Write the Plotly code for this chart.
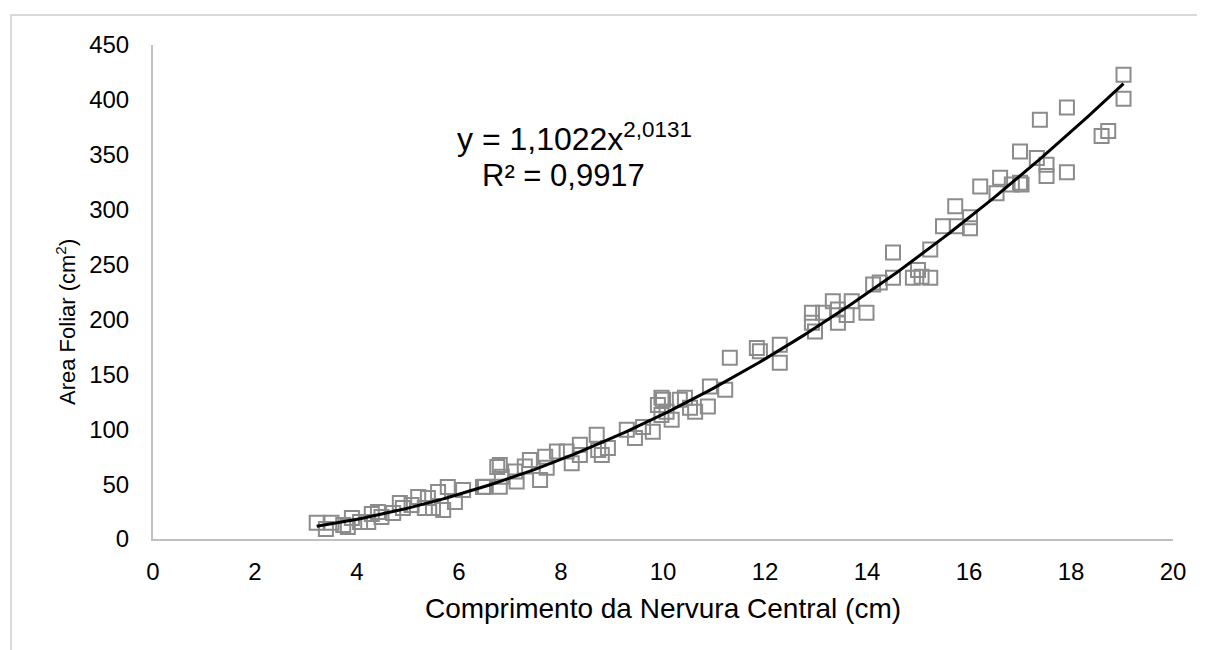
import numpy as np
import plotly.graph_objects as go

# Leaf data: midrib length (cm) vs leaf area (cm2)
comprimento = [3.21, 3.39, 3.50, 3.73, 3.82, 3.90, 4.06, 4.22, 4.29, 4.41, 4.48, 4.71, 4.84, 4.90,
               5.07, 5.20, 5.33, 5.39, 5.49, 5.59, 5.69, 5.78, 5.92, 6.08, 6.47, 6.51, 6.75, 6.80,
               6.84, 6.80, 7.10, 7.13, 7.29, 7.39, 7.59, 7.69, 7.72, 7.92, 8.11, 8.21, 8.37, 8.37,
               8.70, 8.73, 8.80, 8.92, 9.29, 9.45, 9.61, 9.80, 9.90, 9.97, 9.97, 10.00, 10.07, 10.17,
               10.33, 10.43, 10.53, 10.63, 10.88, 10.92, 11.22, 11.31, 11.84, 11.90, 12.29, 12.29,
               12.92, 12.92, 12.98, 13.14, 13.33, 13.43, 13.43, 13.60, 13.70, 13.99, 14.12, 14.25,
               14.51, 14.51, 14.90, 15.00, 15.07, 15.24, 15.24, 15.49, 15.73, 15.76, 16.02, 16.02,
               16.22, 16.54, 16.61, 16.84, 17.00, 17.03, 17.00, 17.33, 17.39, 17.52, 17.52, 17.92,
               17.92, 18.60, 18.73, 19.03, 19.03]
area_foliar = [14.9, 9.1, 14.9, 12.8, 10.9, 19.2, 15.5, 15.5, 22.8, 24.6, 20.0, 23.7, 32.8, 28.3,
               31.0, 38.3, 28.3, 37.4, 28.3, 42.9, 26.5, 47.4, 33.8, 44.7, 47.4, 47.7, 65.7, 67.5,
               56.8, 47.7, 61.4, 52.3, 66.0, 72.0, 53.8, 75.0, 64.8, 79.7, 79.7, 69.0, 85.8, 76.6,
               94.9, 81.0, 76.6, 83.0, 99.5, 92.0, 102.0, 97.6, 122.0, 128.6, 113.0, 126.8, 116.0, 108.6,
               126.8, 128.6, 119.5, 116.0, 120.7, 139.0, 136.0, 165.0, 174.0, 171.0, 177.0, 160.6,
               206.0, 197.0, 189.0, 206.0, 216.5, 209.0, 197.0, 204.0, 216.5, 206.0, 231.8, 233.6,
               261.0, 238.0, 238.0, 245.0, 239.0, 263.7, 238.0, 285.0, 303.0, 285.0, 293.0, 283.0,
               321.0, 315.0, 329.0, 323.0, 353.0, 323.0, 324.5, 347.0, 382.0, 341.0, 330.6, 393.0,
               334.0, 367.0, 371.6, 423.0, 401.0]

# Power trendline coefficients as printed on the chart
coef_a = 1.1022
coef_b = 2.0131

x_ticks = [0, 2, 4, 6, 8, 10, 12, 14, 16, 18, 20]
y_ticks = [0, 50, 100, 150, 200, 250, 300, 350, 400, 450]

xt = np.linspace(min(comprimento), max(comprimento), 200)
yt = coef_a * xt ** coef_b

fig = go.Figure()
fig.add_trace(go.Scatter(
    x=comprimento, y=area_foliar, mode="markers",
    marker=dict(symbol="square-open", size=14, color="#8c8c8c", line=dict(width=2, color="#8c8c8c")),
    showlegend=False, hoverinfo="x+y"))
fig.add_trace(go.Scatter(
    x=xt, y=yt, mode="lines", line=dict(color="black", width=3), showlegend=False))

font_family = "Liberation Sans, Arial, sans-serif"

fig.update_layout(
    width=1205, height=650,
    margin=dict(l=145, r=40, t=37, b=119, autoexpand=False),
    paper_bgcolor="white", plot_bgcolor="white",
    font=dict(family=font_family, size=24, color="#000000"),
    xaxis=dict(range=[0, 20], tickvals=x_ticks, ticktext=[str(v) for v in x_ticks],
               showgrid=False, zeroline=False, showline=True, linecolor="#c0c0c0", linewidth=2,
               ticks="", ticklen=0, ticklabelstandoff=10,
               tickfont=dict(size=24, family=font_family, color="#000"),
               title=dict(text="Comprimento da Nervura Central (cm)", standoff=15,
                          font=dict(size=28, family=font_family, color="#000"))),
    yaxis=dict(range=[0, 450], tickvals=y_ticks, ticktext=[str(v) for v in y_ticks],
               showgrid=False, zeroline=False, showline=True, linecolor="#c0c0c0", linewidth=2,
               ticks="", ticklen=0, ticklabelstandoff=17,
               tickfont=dict(size=24, family=font_family, color="#000")),
    shapes=[dict(type="rect", xref="paper", yref="paper",
                 x0=(11 - 153) / 1020, x1=(1225 - 153) / 1020,
                 y0=-0.4, y1=(539 - 15) / 494,
                 line=dict(color="#d9d9d9", width=2), fillcolor="rgba(0,0,0,0)", layer="below")],
    annotations=[
        dict(x=(66 - 153) / 1020, y=(539 - 322) / 494, xref="paper", yref="paper",
             showarrow=False, textangle=-90, xanchor="center", yanchor="middle",
             text="Area Foliar (cm<sup>2</sup>)", font=dict(size=22, family=font_family, color="#000")),
        dict(x=8.27, y=366, xref="x", yref="y", showarrow=False, xanchor="center",
             text="y = 1,1022x<sup>2,0131</sup>", font=dict(size=32, family=font_family, color="#000")),
        dict(x=8.04, y=331, xref="x", yref="y", showarrow=False, xanchor="center",
             text="R² = 0,9917", font=dict(size=31, family=font_family, color="#000")),
    ],
)

fig.write_html("out.html")
